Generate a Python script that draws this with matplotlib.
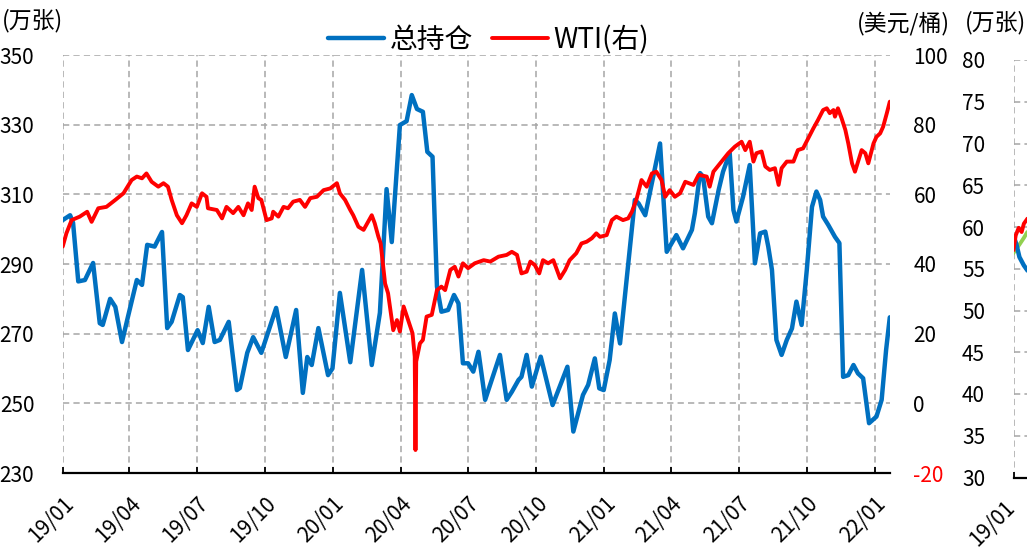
import matplotlib
matplotlib.use("Agg")
import matplotlib.pyplot as plt
import matplotlib.dates as mdates
import matplotlib.transforms as mtransforms
import pandas as pd

plt.rcParams['font.family'] = ['Noto Sans CJK SC', 'DejaVu Sans']
plt.rcParams['lines.scale_dashes'] = False
plt.rcParams['axes.unicode_minus'] = False

# ---------------- data ----------------
oi_dates = ['2019-01-01', '2019-01-11', '2019-01-15', '2019-01-22', '2019-01-31', '2019-02-11',
            '2019-02-20', '2019-02-24', '2019-03-06', '2019-03-13', '2019-03-22', '2019-03-30',
            '2019-04-11', '2019-04-18', '2019-04-25', '2019-05-05', '2019-05-15', '2019-05-22',
            '2019-05-28', '2019-06-08', '2019-06-12', '2019-06-19', '2019-07-02', '2019-07-09',
            '2019-07-17', '2019-07-25', '2019-08-01', '2019-08-13', '2019-08-24', '2019-08-28',
            '2019-09-07', '2019-09-15', '2019-09-26', '2019-10-16', '2019-10-29', '2019-11-12',
            '2019-11-21', '2019-11-27', '2019-12-03', '2019-12-12', '2019-12-25', '2019-12-31',
            '2020-01-10', '2020-01-24', '2020-02-09', '2020-02-22', '2020-03-04', '2020-03-13',
            '2020-03-20', '2020-03-31', '2020-04-09', '2020-04-16', '2020-04-23', '2020-05-01',
            '2020-05-07', '2020-05-14', '2020-05-20', '2020-05-26', '2020-06-04', '2020-06-12',
            '2020-06-18', '2020-06-24', '2020-07-01', '2020-07-08', '2020-07-15', '2020-07-24',
            '2020-08-13', '2020-08-22', '2020-08-29', '2020-09-07', '2020-09-11', '2020-09-18',
            '2020-09-25', '2020-10-07', '2020-10-23', '2020-11-12', '2020-11-20', '2020-12-03',
            '2020-12-10', '2020-12-19', '2020-12-25', '2020-12-31', '2021-01-08', '2021-01-15',
            '2021-01-22', '2021-02-11', '2021-02-16', '2021-02-25', '2021-03-17', '2021-03-26',
            '2021-04-08', '2021-04-17', '2021-04-29', '2021-05-03', '2021-05-10', '2021-05-14',
            '2021-05-21', '2021-05-26', '2021-06-04', '2021-06-10', '2021-06-19', '2021-06-24',
            '2021-06-28', '2021-07-07', '2021-07-16', '2021-07-23', '2021-07-30', '2021-08-06',
            '2021-08-10', '2021-08-15', '2021-08-21', '2021-08-28', '2021-09-04', '2021-09-11',
            '2021-09-17', '2021-09-24', '2021-10-01', '2021-10-08', '2021-10-14', '2021-10-19',
            '2021-10-23', '2021-10-30', '2021-11-08', '2021-11-14', '2021-11-19', '2021-11-26',
            '2021-12-03', '2021-12-09', '2021-12-16', '2021-12-24', '2022-01-03', '2022-01-10',
            '2022-01-16', '2022-01-21']
oi_values = [302.6, 304.0, 301.8, 285.0, 285.4, 290.3,
             273.0, 272.5, 280.0, 277.7, 267.6, 274.8,
             285.4, 284.0, 295.5, 295.0, 299.2, 271.6,
             273.4, 281.1, 280.5, 265.3, 271.0, 267.3,
             277.7, 267.6, 268.2, 273.4, 253.8, 254.4,
             264.5, 269.0, 264.5, 277.4, 263.3, 276.8,
             253.0, 263.3, 261.0, 271.6, 258.1, 260.0,
             281.7, 261.8, 288.3, 261.0, 276.0, 311.5,
             296.3, 329.9, 331.0, 338.5, 334.5, 333.7,
             322.2, 320.8, 283.5, 276.3, 276.8, 281.1,
             278.7, 261.5, 261.5, 259.1, 264.8, 251.0,
             263.9, 251.0, 253.3, 256.7, 257.6, 263.9,
             254.8, 263.4, 249.5, 260.5, 241.9, 252.4,
             255.3, 262.9, 254.3, 253.8, 262.4, 275.8,
             267.2, 308.4, 307.4, 304.0, 324.6, 293.5,
             298.3, 294.5, 299.8, 304.6, 316.1, 315.1,
             303.6, 301.7, 311.2, 316.5, 321.8, 305.5,
             302.2, 309.3, 318.4, 290.2, 298.8, 299.3,
             295.0, 288.3, 268.2, 263.9, 268.2, 271.5,
             279.2, 272.5, 288.3, 306.4, 310.8, 308.4,
             303.6, 301.2, 297.8, 296.0, 257.6, 258.1,
             261.0, 258.6, 257.2, 244.3, 246.2, 251.0,
             265.3, 274.7]

wti_dates = ['2019-01-01', '2019-01-06', '2019-01-13', '2019-01-24', '2019-02-03', '2019-02-09',
             '2019-02-18', '2019-03-01', '2019-03-13', '2019-03-24', '2019-04-04', '2019-04-11',
             '2019-04-18', '2019-04-24', '2019-05-01', '2019-05-10', '2019-05-17', '2019-05-23',
             '2019-05-28', '2019-06-04', '2019-06-11', '2019-06-17', '2019-06-24', '2019-07-01',
             '2019-07-08', '2019-07-14', '2019-07-16', '2019-07-28', '2019-08-04', '2019-08-10',
             '2019-08-19', '2019-08-26', '2019-09-02', '2019-09-08', '2019-09-13', '2019-09-17',
             '2019-09-22', '2019-09-26', '2019-10-03', '2019-10-10', '2019-10-12', '2019-10-19',
             '2019-10-26', '2019-11-01', '2019-11-08', '2019-11-17', '2019-11-24', '2019-12-01',
             '2019-12-10', '2019-12-19', '2019-12-28', '2020-01-06', '2020-01-10', '2020-01-17',
             '2020-01-24', '2020-01-28', '2020-02-04', '2020-02-11', '2020-02-17', '2020-02-22',
             '2020-02-26', '2020-03-02', '2020-03-05', '2020-03-11', '2020-03-15', '2020-03-22',
             '2020-03-27', '2020-03-31', '2020-04-05', '2020-04-11', '2020-04-17', '2020-04-20',
             '2020-04-21', '2020-04-22', '2020-04-27', '2020-05-01', '2020-05-06', '2020-05-13',
             '2020-05-20', '2020-05-26', '2020-05-31', '2020-06-07', '2020-06-13', '2020-06-18',
             '2020-06-24', '2020-07-01', '2020-07-10', '2020-07-22', '2020-07-31', '2020-08-11',
             '2020-08-22', '2020-08-29', '2020-09-05', '2020-09-11', '2020-09-18', '2020-09-23',
             '2020-09-29', '2020-10-05', '2020-10-10', '2020-10-17', '2020-10-24', '2020-11-02',
             '2020-11-09', '2020-11-15', '2020-11-24', '2020-12-01', '2020-12-08', '2020-12-15',
             '2020-12-21', '2020-12-26', '2021-01-04', '2021-01-11', '2021-01-17', '2021-01-26',
             '2021-02-02', '2021-02-07', '2021-02-13', '2021-02-20', '2021-02-27', '2021-03-06',
             '2021-03-12', '2021-03-19', '2021-03-24', '2021-03-30', '2021-04-06', '2021-04-13',
             '2021-04-20', '2021-05-01', '2021-05-08', '2021-05-19', '2021-05-23', '2021-05-28',
             '2021-06-08', '2021-06-17', '2021-06-26', '2021-07-05', '2021-07-10', '2021-07-16',
             '2021-07-21', '2021-07-25', '2021-08-01', '2021-08-06', '2021-08-12', '2021-08-19',
             '2021-08-24', '2021-08-28', '2021-09-04', '2021-09-13', '2021-09-19', '2021-09-26',
             '2021-10-03', '2021-10-10', '2021-10-16', '2021-10-23', '2021-10-28', '2021-11-01',
             '2021-11-06', '2021-11-08', '2021-11-12', '2021-11-17', '2021-11-22', '2021-11-26',
             '2021-12-01', '2021-12-05', '2021-12-10', '2021-12-14', '2021-12-19', '2021-12-23',
             '2021-12-30', '2022-01-03', '2022-01-08', '2022-01-12', '2022-01-17', '2022-01-21']
wti_values = [45.0, 48.8, 52.6, 53.6, 55.0, 52.1,
              56.0, 56.4, 58.4, 60.3, 64.1, 65.1,
              64.6, 66.0, 63.6, 62.2, 63.2, 62.2,
              58.4, 54.0, 51.7, 54.0, 57.4, 56.4,
              60.3, 59.3, 56.0, 55.5, 53.1, 56.4,
              54.6, 56.4, 54.0, 57.4, 55.5, 62.2,
              58.9, 58.4, 52.6, 53.1, 55.0, 53.6,
              56.4, 56.0, 57.9, 58.4, 56.4, 58.9,
              59.3, 61.2, 61.7, 63.2, 60.3, 58.4,
              55.5, 54.0, 50.7, 49.8, 52.1, 54.0,
              51.7, 47.8, 45.9, 34.4, 31.6, 21.0,
              23.9, 20.6, 27.8, 23.9, 20.1, 13.4,
              -13.4, 12.0, 17.2, 18.2, 24.9, 25.4,
              32.5, 33.5, 32.5, 38.3, 39.2, 36.4,
              40.2, 38.8, 40.2, 41.1, 40.7, 42.1,
              42.6, 43.5, 42.6, 37.3, 37.8, 40.7,
              39.7, 37.3, 41.1, 40.2, 41.1, 35.9,
              38.3, 41.1, 43.1, 45.9, 46.4, 47.4,
              48.8, 47.8, 48.3, 52.6, 53.6, 52.6,
              53.1, 55.0, 58.4, 64.1, 62.2, 66.0,
              66.5, 64.1, 59.3, 61.2, 59.3, 60.3,
              63.6, 62.7, 65.6, 65.1, 62.2, 66.5,
              69.4, 71.8, 73.7, 75.1, 72.7, 75.1,
              69.4, 71.8, 72.3, 68.0, 67.0, 67.5,
              62.7, 67.5, 69.4, 69.4, 72.7, 73.2,
              76.1, 79.0, 81.3, 84.2, 84.7, 83.3,
              84.2, 82.3, 84.7, 81.8, 78.5, 74.6,
              68.9, 66.5, 69.9, 72.7, 71.8, 68.9,
              74.6, 76.5, 77.5, 79.4, 83.3, 86.6]

# right-hand (cut-off) chart
p2_red_dates = ['2019-01-01', '2019-01-04', '2019-01-08', '2019-01-12', '2019-01-15', '2019-01-19']
p2_red_values = [57.3, 59.0, 59.9, 59.4, 60.4, 60.9]
p2_green_dates = ['2019-01-01', '2019-01-09', '2019-01-15', '2019-01-19']
p2_green_values = [56.9, 57.9, 58.7, 59.3]
p2_blue_dates = ['2019-01-02', '2019-01-05', '2019-01-09', '2019-01-15', '2019-01-19']
p2_blue_values = [58.7, 57.9, 56.4, 55.4, 54.9]

left_ticks = [230, 250, 270, 290, 310, 330, 350]
right_ticks = [-20, 0, 20, 40, 60, 80, 100]
p2_ticks = [30, 35, 40, 45, 50, 55, 60, 65, 70, 75, 80]
quarter_ticks = pd.date_range('2019-01-01', '2022-01-01', freq='QS')
p2_xticks = [pd.Timestamp('2019-01-01')]
x_start, x_end = pd.Timestamp('2019-01-01'), pd.Timestamp('2022-01-21')

BLUE = '#0070C0'
RED = '#FF0000'
GREEN = '#92D050'
GRID = '#A6A6A6'
dash = (0, (4.5, 3.0))

# ---------------- figure ----------------
W, H = 1027, 550
fig = plt.figure(figsize=(W / 100, H / 100), dpi=100)

ax = fig.add_axes([62.7 / W, 1 - 473 / H, (889.8 - 62.7) / W, (473 - 55) / H])
ax2 = ax.twinx()

l1, = ax.plot(pd.to_datetime(oi_dates), oi_values, color=BLUE, lw=3.2,
              solid_joinstyle='round', solid_capstyle='round', label='总持仓')
l2, = ax2.plot(pd.to_datetime(wti_dates), wti_values, color=RED, lw=2.8,
               solid_joinstyle='round', solid_capstyle='round', label='WTI(右)')

ax.set_xlim(x_start, x_end)
ax.set_ylim(230, 350)
ax.set_yticks(left_ticks)
ax2.set_ylim(-20, 100)
ax2.set_yticks(right_ticks)

ax.set_xticks(quarter_ticks)
ax.xaxis.set_major_formatter(mdates.DateFormatter('%y/%m'))

ax.set_axisbelow(True)
ax.grid(True, color=GRID, lw=1.1, linestyle=dash)

for s in ['left', 'right', 'top']:
    ax.spines[s].set_visible(False)
    ax2.spines[s].set_visible(False)
ax2.spines['bottom'].set_visible(False)
ax.spines['bottom'].set_color('black')
ax.spines['bottom'].set_linewidth(1.6)

ax.tick_params(axis='y', length=0, pad=20.5, labelsize=15, colors='black')
ax2.tick_params(axis='y', length=0, pad=17, labelsize=15, colors='black')
ax.tick_params(axis='x', direction='in', length=4.5, width=1.3, pad=14,
               labelsize=15, colors='black')
for lab in ax.get_xticklabels():
    lab.set_rotation(45)
    lab.set_ha('right')
    lab.set_va('top')
    lab.set_rotation_mode('anchor')
ax2.get_yticklabels()[0].set_color('red')

fig.legend([l1, l2], ['总持仓', 'WTI(右)'], loc='center', bbox_to_anchor=(0.4757, 0.927),
           ncol=2, frameon=False, fontsize=20, handlelength=2.0, handletextpad=0.2,
           columnspacing=0.7)

fig.text(2 / W, 1 - 21 / H, '(万张)', fontsize=16.5, ha='left', va='center')
fig.text(857 / W, 1 - 23 / H, '(美元/桶)', fontsize=16.5, ha='left', va='center')
fig.text(965 / W, 1 - 23 / H, '(万张)', fontsize=16.5, ha='left', va='center')

# ---------------- second (cut-off) chart ----------------
bx = fig.add_axes([1013.5 / W, 1 - 477.5 / H, (889.8 - 62.7) / W, (477.5 - 60) / H])
bx.plot(pd.to_datetime(p2_green_dates), p2_green_values, color=GREEN, lw=2.8)
bx.plot(pd.to_datetime(p2_blue_dates), p2_blue_values, color=BLUE, lw=3.2)
bx.plot(pd.to_datetime(p2_red_dates), p2_red_values, color=RED, lw=2.8)
bx.set_xlim(x_start, x_end)
bx.set_ylim(30, 80)
bx.set_yticks(p2_ticks)
bx.set_xticks(p2_xticks)
bx.xaxis.set_major_formatter(mdates.DateFormatter('%y/%m'))
bx.set_axisbelow(True)
bx.grid(True, color=GRID, lw=1.1, linestyle=dash)
for s in ['left', 'right', 'top']:
    bx.spines[s].set_visible(False)
bx.spines['bottom'].set_color('black')
bx.spines['bottom'].set_linewidth(1.6)
bx.tick_params(axis='y', length=0, pad=20.5, labelsize=15, colors='black')
bx.tick_params(axis='x', direction='in', length=4.5, width=1.3, pad=14,
               labelsize=15, colors='black')
shift = mtransforms.ScaledTranslation(-10 / 100, 0, fig.dpi_scale_trans)
for lab in bx.get_xticklabels():
    lab.set_rotation(45)
    lab.set_ha('right')
    lab.set_va('top')
    lab.set_rotation_mode('anchor')
    lab.set_transform(lab.get_transform() + shift)

fig.savefig('out.png', dpi=100)
